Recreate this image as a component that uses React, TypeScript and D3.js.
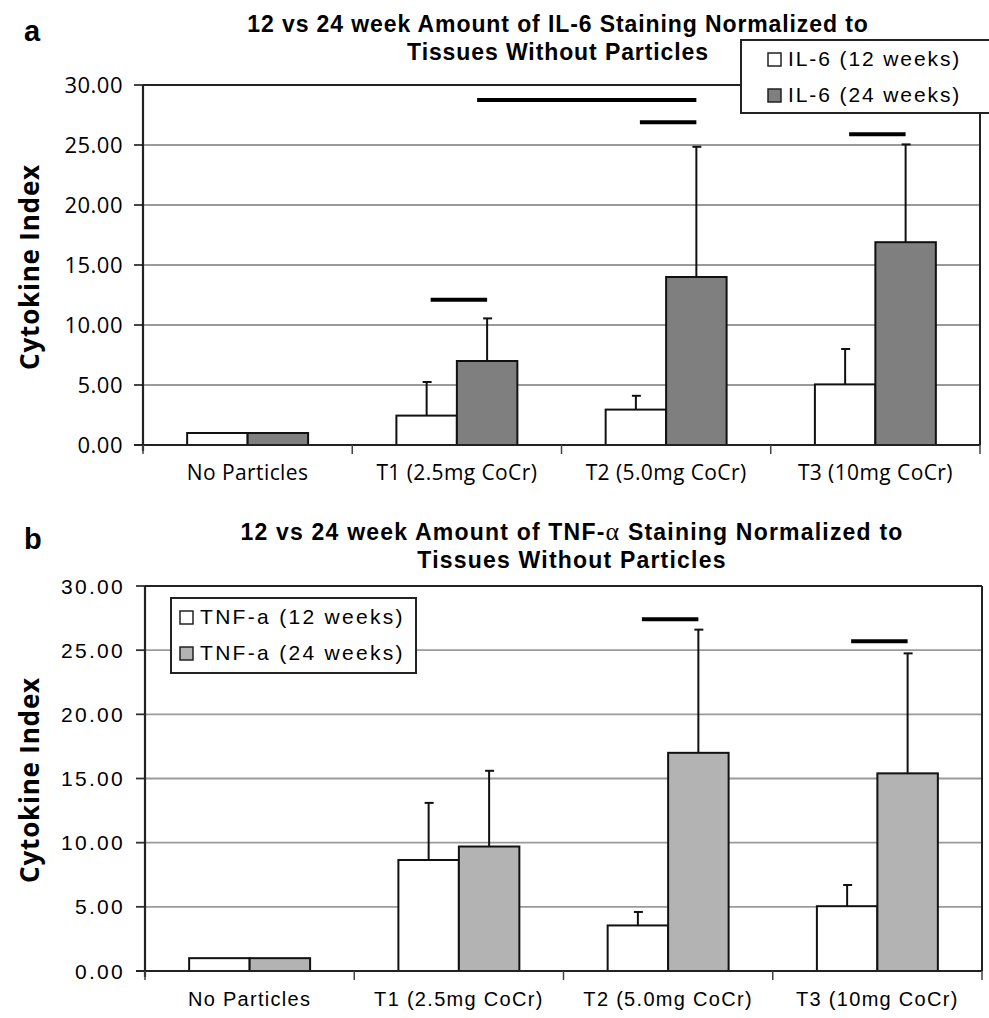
import React from 'react';
import * as d3 from 'd3';

const categories = ['No Particles', 'T1 (2.5mg CoCr)', 'T2 (5.0mg CoCr)', 'T3 (10mg CoCr)'];
const yTicks = [0, 5, 10, 15, 20, 25, 30];

// IL-6
const il6Week12 = [1.0, 2.45, 2.95, 5.05];
const il6Week12Err = [0, 2.8, 1.15, 2.95];
const il6Week24 = [1.0, 7.0, 14.0, 16.9];
const il6Week24Err = [0, 3.55, 10.85, 8.15];
const il6Sig = [
  { from: [1, 0], to: [1, 1], level: 12.1 },
  { from: [1, 1], to: [2, 1], level: 28.75 },
  { from: [2, 0], to: [2, 1], level: 26.9 },
  { from: [3, 0], to: [3, 1], level: 25.9 },
];

// TNF-a
const tnfWeek12 = [1.0, 8.65, 3.55, 5.05];
const tnfWeek12Err = [0, 4.45, 1.05, 1.65];
const tnfWeek24 = [1.0, 9.7, 17.0, 15.4];
const tnfWeek24Err = [0, 5.9, 9.6, 9.35];
const tnfSig = [
  { from: [2, 0], to: [2, 1], level: 27.4 },
  { from: [3, 0], to: [3, 1], level: 25.7 },
];

const CALIBRI = '"Open Sans", "DejaVu Sans", sans-serif';
const ARIAL = '"Liberation Sans", Arial, sans-serif';

type PanelProps = {
  letter: string;
  title1: React.ReactNode;
  title2: string;
  titleX: number;
  titleY: number;
  titleSpacing: number;
  left: number;
  right: number;
  top: number;
  bottom: number;
  w12: number[];
  w12Err: number[];
  w24: number[];
  w24Err: number[];
  sig: { from: number[]; to: number[]; level: number }[];
  grey: string;
  labels: string[];
  legend: { x: number; y: number; w: number; h: number; pad: number; spacing: number };
  tickFont: string;
  tickSize: number;
  tickSpacing: number;
  catFont: string;
  catSize: number;
  catSpacing: number;
  yLabelY: number;
};

const Panel = (p: PanelProps) => {
  const x0 = d3.scaleBand<string>().domain(categories).range([p.left, p.right]).paddingInner(0).paddingOuter(0);
  const x1 = d3.scaleBand<string>().domain(['w12', 'w24']).range([0, x0.bandwidth()]).paddingInner(0).paddingOuter(0.73);
  const y = d3.scaleLinear().domain([0, 30]).range([p.bottom, p.top]);
  const series = [
    { key: 'w12', vals: p.w12, err: p.w12Err, fill: '#ffffff' },
    { key: 'w24', vals: p.w24, err: p.w24Err, fill: p.grey },
  ];
  const cx = (c: number, s: number) => (x0(categories[c]) as number) + (x1(s === 0 ? 'w12' : 'w24') as number) + x1.bandwidth() / 2;

  return (
    <g>
      <text x={24} y={p.titleY + 9} fontFamily={ARIAL} fontWeight="bold" fontSize={29}>{p.letter}</text>
      <text x={p.titleX} y={p.titleY} textAnchor="middle" fontFamily={ARIAL} fontWeight="bold" fontSize={23} letterSpacing={p.titleSpacing}>{p.title1}</text>
      <text x={p.titleX} y={p.titleY + 28} textAnchor="middle" fontFamily={ARIAL} fontWeight="bold" fontSize={23} letterSpacing={p.titleSpacing}>{p.title2}</text>
      <text transform={`translate(39,${p.yLabelY}) rotate(-90)`} textAnchor="middle" fontFamily={CALIBRI} fontWeight="bold" fontSize={26} letterSpacing={0.8}>Cytokine Index</text>

      {yTicks.map(t => (
        <g key={t}>
          {t > 0 && t < 30 && <line x1={p.left} x2={p.right} y1={y(t)} y2={y(t)} stroke="#9a9a9a" strokeWidth={1.8} />}
          <line x1={p.left - 9} x2={p.left} y1={y(t)} y2={y(t)} stroke="#333" strokeWidth={1.8} />
          <text x={p.left - 20} y={y(t)} dy="0.36em" textAnchor="end" fontFamily={p.tickFont} fontSize={p.tickSize} letterSpacing={p.tickSpacing}>{t.toFixed(2)}</text>
        </g>
      ))}
      <line x1={p.left} x2={p.right} y1={p.top} y2={p.top} stroke="#222" strokeWidth={2} />
      <line x1={p.right} x2={p.right} y1={p.top} y2={p.bottom} stroke="#222" strokeWidth={2} />

      {series.map(s => categories.map((c, i) => {
        const bx = (x0(c) as number) + (x1(s.key) as number);
        const bw = x1.bandwidth();
        return (
          <g key={s.key + i}>
            {s.err[i] > 0 && (
              <g stroke="#111" strokeWidth={2}>
                <line x1={bx + bw / 2} x2={bx + bw / 2} y1={y(s.vals[i])} y2={y(s.vals[i] + s.err[i])} />
                <line x1={bx + bw / 2 - 4} x2={bx + bw / 2 + 5} y1={y(s.vals[i] + s.err[i])} y2={y(s.vals[i] + s.err[i])} />
              </g>
            )}
            <rect x={bx} y={y(s.vals[i])} width={bw} height={y(0) - y(s.vals[i])} fill={s.fill} stroke="#111" strokeWidth={2} />
          </g>
        );
      }))}

      {p.sig.map((s, i) => (
        <line key={i} x1={cx(s.from[0], s.from[1]) - (s.from[0] !== s.to[0] ? 10 : -4)} x2={cx(s.to[0], s.to[1])} y1={y(s.level)} y2={y(s.level)} stroke="#000" strokeWidth={4} />
      ))}

      <line x1={p.left} x2={p.left} y1={p.top} y2={p.bottom + 6} stroke="#222" strokeWidth={2.2} />
      <line x1={p.left - 9} x2={p.right} y1={p.bottom} y2={p.bottom} stroke="#222" strokeWidth={2.2} />
      {categories.map(c => (
        <line key={c} x1={x0(c) as number} x2={x0(c) as number} y1={p.bottom} y2={p.bottom + 9} stroke="#444" strokeWidth={1.5} />
      ))}
      <line x1={p.right} x2={p.right} y1={p.bottom} y2={p.bottom + 9} stroke="#444" strokeWidth={1.5} />
      {categories.map(c => (
        <text key={c} x={(x0(c) as number) + x0.bandwidth() / 2} y={p.bottom + 35} textAnchor="middle" fontFamily={p.catFont} fontSize={p.catSize} letterSpacing={p.catSpacing}>{c}</text>
      ))}

      <g>
        <rect x={p.legend.x} y={p.legend.y} width={p.legend.w} height={p.legend.h} fill="#fff" stroke="#222" strokeWidth={2} />
        {series.map((s, i) => (
          <g key={s.key} transform={`translate(${p.legend.x + p.legend.pad},${p.legend.y + 13 + i * 36})`}>
            <rect x={0} y={0} width={13} height={13} fill={s.fill} stroke="#222" strokeWidth={1.5} />
            <text x={20} y={13} fontFamily={ARIAL} fontSize={21} letterSpacing={p.legend.spacing}>{p.labels[i]}</text>
          </g>
        ))}
      </g>
    </g>
  );
};

export default function App() {
  return (
    <svg width={989} height={1018} style={{ position: 'absolute', left: 0, top: 0, background: '#fff' }}>
      <Panel
        letter="a"
        title1="12 vs 24 week Amount of IL-6 Staining Normalized to"
        title2="Tissues Without Particles"
        titleX={558}
        titleY={32}
        titleSpacing={0.9}
        left={143}
        right={980}
        top={85}
        bottom={445}
        w12={il6Week12}
        w12Err={il6Week12Err}
        w24={il6Week24}
        w24Err={il6Week24Err}
        sig={il6Sig}
        grey="#7f7f7f"
        labels={['IL-6 (12 weeks)', 'IL-6 (24 weeks)']}
        legend={{ x: 741, y: 40, w: 270, h: 73, pad: 27, spacing: 1.9 }}
        tickFont={CALIBRI}
        tickSize={22}
        tickSpacing={0.5}
        catFont={CALIBRI}
        catSize={21}
        catSpacing={0.4}
        yLabelY={267}
      />
      <Panel
        letter="b"
        title1={<>12 vs 24 week Amount of TNF-<tspan fontFamily='"Liberation Serif", serif' fontWeight="normal" fontSize={26}>α</tspan> Staining Normalized to</>}
        title2="Tissues Without Particles"
        titleX={572}
        titleY={540}
        titleSpacing={1.2}
        left={145}
        right={982}
        top={586}
        bottom={971}
        w12={tnfWeek12}
        w12Err={tnfWeek12Err}
        w24={tnfWeek24}
        w24Err={tnfWeek24Err}
        sig={tnfSig}
        grey="#b3b3b3"
        labels={['TNF-a (12 weeks)', 'TNF-a (24 weeks)']}
        legend={{ x: 171, y: 598, w: 245, h: 75, pad: 9, spacing: 2.3 }}
        tickFont={ARIAL}
        tickSize={21}
        tickSpacing={2.3}
        catFont={ARIAL}
        catSize={20}
        catSpacing={1.3}
        yLabelY={780}
      />
    </svg>
  );
}
